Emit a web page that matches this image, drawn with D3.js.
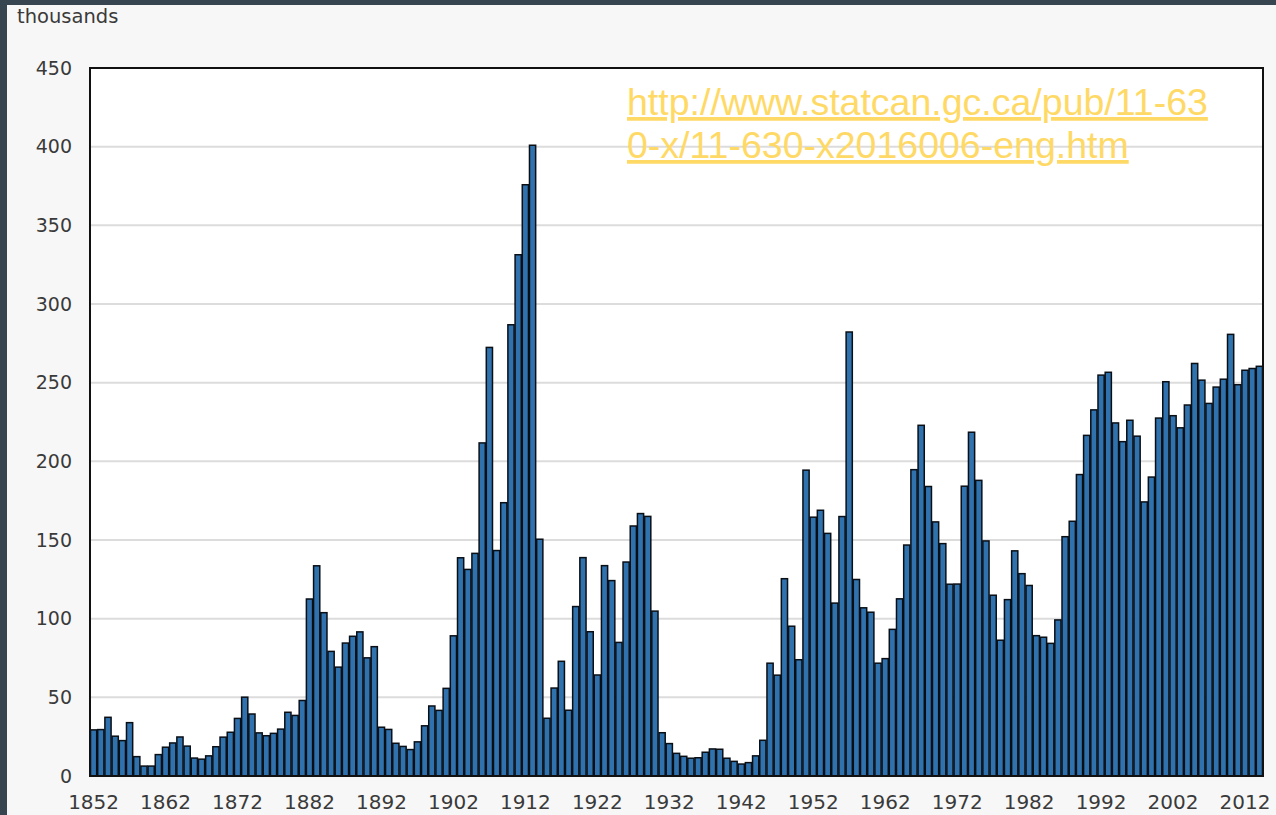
<!DOCTYPE html>
<html>
<head>
<meta charset="utf-8">
<script src="https://cdn.jsdelivr.net/npm/d3@7"></script>
<style>
  body { margin: 0; background: #36454f; }
  svg { display: block; }
</style>
</head>
<body>
<div id="chart"></div>
<script>
// immigrants to Canada, thousands, 1852-2014
const firstYear = 1852;
const values = [
    29.3, 29.5, 37.3, 25.3, 22.5, 33.9, 12.3, 6.3, 6.3, 13.6,
    18.3, 21.0, 24.8, 19.0, 11.4, 10.7, 12.8, 18.6, 24.7, 27.8,
    36.6, 50.1, 39.4, 27.4, 25.6, 27.1, 29.8, 40.5, 38.5, 48.0,
    112.5, 133.6, 103.8, 79.2, 69.2, 84.5, 88.8, 91.6, 75.1, 82.2,
    31.0, 29.6, 20.8, 18.8, 16.8, 21.7, 31.9, 44.5, 41.7, 55.7,
    89.1, 138.7, 131.3, 141.5, 211.7, 272.4, 143.3, 173.7, 286.8, 331.3,
    375.8, 400.9, 150.5, 36.7, 55.9, 72.9, 41.8, 107.7, 138.8, 91.7,
    64.2, 133.7, 124.2, 84.9, 136.0, 158.9, 166.8, 165.0, 104.8, 27.5,
    20.6, 14.4, 12.5, 11.3, 11.6, 15.1, 17.2, 17.0, 11.3, 9.3,
    7.6, 8.5, 12.8, 22.7, 71.7, 64.1, 125.4, 95.2, 73.9, 194.4,
    164.5, 168.9, 154.2, 109.9, 164.9, 282.2, 124.9, 106.9, 104.1, 71.7,
    74.6, 93.2, 112.6, 146.8, 194.7, 222.9, 184.0, 161.5, 147.7, 121.9,
    122.0, 184.2, 218.5, 187.9, 149.4, 114.9, 86.3, 112.1, 143.1, 128.6,
    121.1, 89.2, 88.2, 84.3, 99.2, 152.1, 161.9, 191.6, 216.5, 232.7,
    254.8, 256.6, 224.4, 212.5, 226.1, 216.0, 174.2, 190.0, 227.5, 250.6,
    229.0, 221.3, 235.8, 262.2, 251.6, 236.8, 247.2, 252.2, 280.7, 248.7,
    257.9, 259.0, 260.4
];
const years = values.map((v, i) => firstYear + i);
const yTicks = [0, 50, 100, 150, 200, 250, 300, 350, 400, 450];
const xTickYears = d3.range(1852, 2015, 10);
const sourceLines = ["http://www.statcan.gc.ca/pub/11-63", "0-x/11-630-x2016006-eng.htm"];

const W = 1276, H = 815;
const margin = { left: 90, right: 13, top: 68, bottom: 39 };
const font = "DejaVu Sans, Verdana, sans-serif";

const svg = d3.select("#chart").append("svg")
    .attr("width", W)
    .attr("height", H);

// light panel inside the dark frame
svg.append("rect")
    .attr("x", 7).attr("y", 5)
    .attr("width", W - 7).attr("height", H - 5)
    .attr("fill", "#f7f7f7");

const x = d3.scaleBand()
    .domain(years)
    .range([margin.left, W - margin.right])
    .padding(0);

const y = d3.scaleLinear()
    .domain([0, 450])
    .range([H - margin.bottom, margin.top]);

svg.append("rect")
    .attr("x", margin.left).attr("y", margin.top)
    .attr("width", W - margin.left - margin.right)
    .attr("height", H - margin.top - margin.bottom)
    .attr("fill", "#fff");

// gridlines
svg.append("g")
    .selectAll("line")
    .data(yTicks.filter(d => d > 0 && d < 450))
    .enter().append("line")
    .attr("x1", margin.left).attr("x2", W - margin.right)
    .attr("y1", d => y(d)).attr("y2", d => y(d))
    .attr("stroke", "#dcdcdc")
    .attr("stroke-width", 2);

svg.append("g")
    .selectAll("rect")
    .data(values)
    .enter().append("rect")
    .attr("x", (d, i) => x(years[i]) + 0.5)
    .attr("y", d => y(d))
    .attr("width", x.bandwidth() - 1)
    .attr("height", d => y(0) - y(d))
    .attr("fill", "#2f72ad")
    .attr("stroke", "#0a0f16")
    .attr("stroke-width", 1.5);

// frame
svg.append("rect")
    .attr("x", margin.left).attr("y", margin.top)
    .attr("width", W - margin.left - margin.right)
    .attr("height", H - margin.top - margin.bottom)
    .attr("fill", "none")
    .attr("stroke", "#111")
    .attr("stroke-width", 2);

const yAxis = svg.append("g")
    .attr("transform", `translate(${margin.left - 18},0)`)
    .call(d3.axisLeft(y).tickValues(yTicks).tickSize(0).tickPadding(0));
yAxis.select(".domain").remove();
yAxis.selectAll("text")
    .attr("font-family", font)
    .attr("font-size", 19)
    .attr("fill", "#3a3a3a");

const xAxis = svg.append("g")
    .attr("transform", `translate(0,${H - margin.bottom})`)
    .call(d3.axisBottom(x).tickValues(xTickYears).tickSize(0).tickPadding(19));
xAxis.select(".domain").remove();
xAxis.selectAll("text")
    .attr("font-family", font)
    .attr("font-size", 20)
    .attr("fill", "#3a3a3a");

svg.append("text")
    .attr("x", 17).attr("y", 23)
    .attr("font-family", font)
    .attr("font-size", 19.5)
    .attr("fill", "#3a3a3a")
    .text("thousands");

svg.append("g")
    .selectAll("text")
    .data(sourceLines)
    .enter().append("text")
    .attr("x", 627)
    .attr("y", (d, i) => 115 + i * 43)
    .attr("font-family", "Liberation Sans, Arial, sans-serif")
    .attr("font-size", 37.5)
    .attr("fill", "#ffd966")
    .attr("text-decoration", "underline")
    .text(d => d);
</script>
</body>
</html>
